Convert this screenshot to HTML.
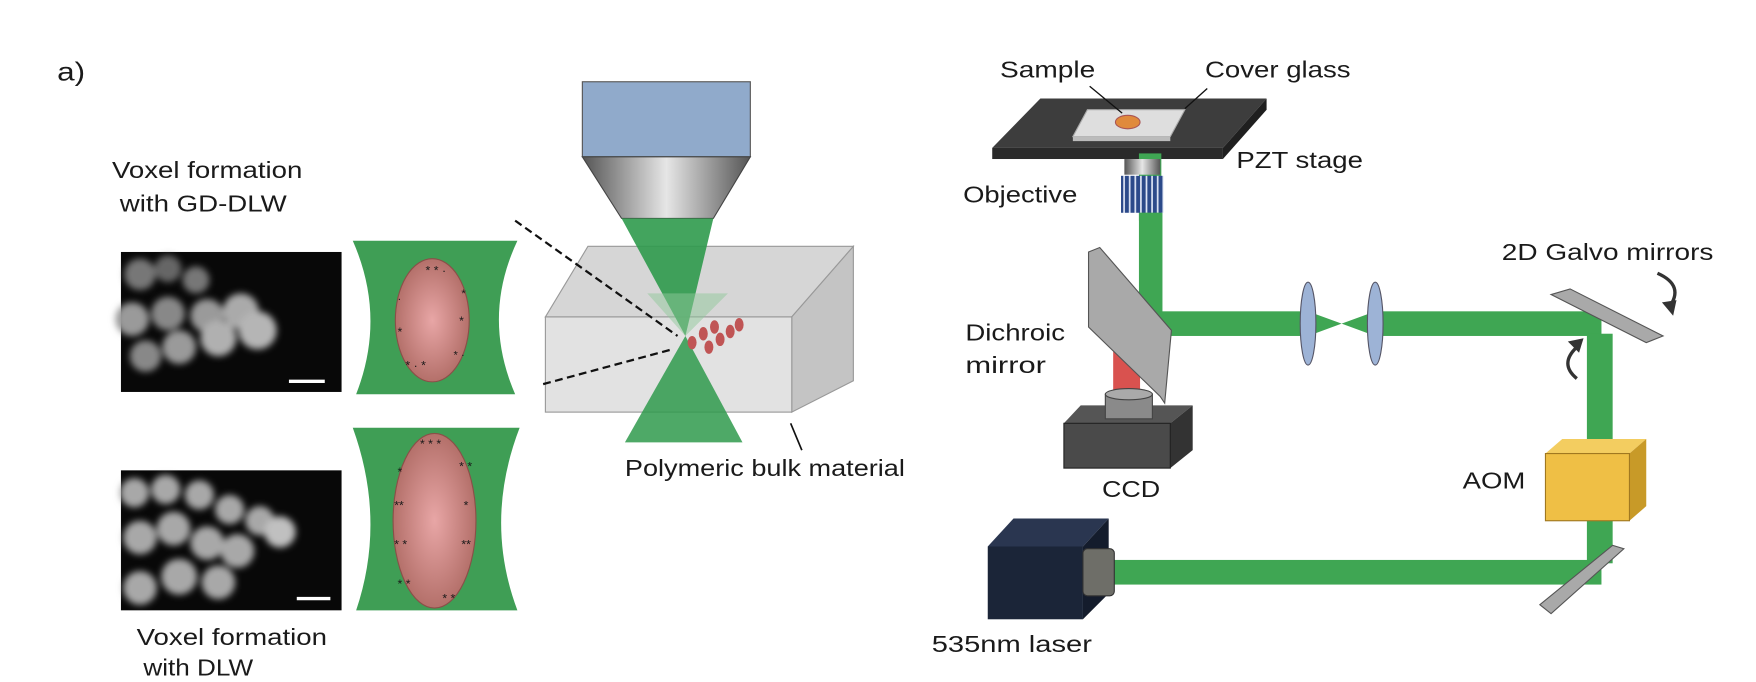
<!DOCTYPE html>
<html><head><meta charset="utf-8"><style>
html,body{margin:0;padding:0;background:#fff;}
svg{display:block;}
text{font-family:"Liberation Sans",Arial,sans-serif;fill:#1a1a1a;}
</style></head><body>
<svg width="1756" height="682" viewBox="0 0 1568 609" preserveAspectRatio="none" xmlns="http://www.w3.org/2000/svg">
<defs>
<filter id="bl" x="-20%" y="-20%" width="140%" height="140%"><feGaussianBlur stdDeviation="3"/></filter>
<radialGradient id="pink" cx="50%" cy="50%" r="50%"><stop offset="0" stop-color="#e8a6a6"/><stop offset="1" stop-color="#b4706a"/></radialGradient>
<linearGradient id="objg" x1="0" x2="1"><stop offset="0" stop-color="#555"/><stop offset="0.5" stop-color="#e6e6e6"/><stop offset="1" stop-color="#555"/></linearGradient>
<pattern id="stripe" width="5" height="10" patternUnits="userSpaceOnUse"><rect width="5" height="10" fill="#2c4a8a"/><rect x="3" width="1.5" height="10" fill="#dfe6f5"/></pattern>
</defs>

<text x="51" y="72" font-size="23" textLength="25" lengthAdjust="spacingAndGlyphs">a)</text>

<g>
<text x="100" y="159" font-size="21" textLength="170" lengthAdjust="spacingAndGlyphs">Voxel formation</text>
<text x="107" y="189" font-size="21" textLength="149" lengthAdjust="spacingAndGlyphs">with GD-DLW</text>
<rect x="108" y="225" width="197" height="125" fill="#080808"/>
<g filter="url(#bl)" fill="#9a9a9a">
<circle cx="125" cy="245" r="14" fill="#777"/><circle cx="150" cy="240" r="12" fill="#666"/><circle cx="175" cy="250" r="12" fill="#777"/>
<circle cx="118" cy="285" r="15"/><circle cx="150" cy="280" r="15" fill="#888"/><circle cx="185" cy="282" r="15"/><circle cx="215" cy="278" r="16" fill="#aaa"/>
<circle cx="130" cy="318" r="14" fill="#888"/><circle cx="160" cy="310" r="15"/><circle cx="195" cy="302" r="16" fill="#b0b0b0"/><circle cx="230" cy="295" r="17" fill="#b5b5b5"/>
</g>
<rect x="258" y="339" width="32" height="3" fill="#fff"/>
</g>

<g>
<rect x="108" y="420" width="197" height="125" fill="#080808"/>
<g filter="url(#bl)" fill="#a8a8a8">
<circle cx="120" cy="440" r="13"/><circle cx="148" cy="437" r="13"/><circle cx="178" cy="442" r="13"/><circle cx="205" cy="455" r="13"/><circle cx="232" cy="465" r="13"/>
<circle cx="125" cy="480" r="15"/><circle cx="155" cy="472" r="15"/><circle cx="185" cy="485" r="15"/><circle cx="212" cy="492" r="15"/><circle cx="250" cy="475" r="14" fill="#c0c0c0"/>
<circle cx="125" cy="525" r="15"/><circle cx="160" cy="515" r="16"/><circle cx="195" cy="520" r="15"/>
</g>
<rect x="265" y="533" width="30" height="3" fill="#fff"/>
<text x="122" y="576" font-size="21" textLength="170" lengthAdjust="spacingAndGlyphs">Voxel formation</text>
<text x="128" y="603" font-size="21" textLength="98" lengthAdjust="spacingAndGlyphs">with DLW</text>
</g>

<g>
<path d="M315 215 L462 215 Q430 283 460 352 L318 352 Q345 283 315 215Z" fill="#3f9e55"/>
<ellipse cx="386" cy="286" rx="33" ry="55" fill="url(#pink)" stroke="#8a4f48" stroke-width="1"/>
<text x="380" y="245" font-size="11">* * ·</text><text x="355" y="270" font-size="10">·</text><text x="355" y="300" font-size="11">*</text><text x="410" y="290" font-size="11">*</text><text x="412" y="265" font-size="10">*</text><text x="362" y="330" font-size="11">* · *</text><text x="405" y="320" font-size="10">* ·</text>
</g>
<g>
<path d="M315 382 L464 382 Q432 465 462 545 L318 545 Q345 465 315 382Z" fill="#3f9e55"/>
<ellipse cx="388" cy="465" rx="37" ry="78" fill="url(#pink)" stroke="#8a4f48" stroke-width="1"/>
<text x="375" y="400" font-size="11">* * *</text><text x="355" y="425" font-size="11">*</text><text x="352" y="455" font-size="11">**</text><text x="352" y="490" font-size="11">* *</text><text x="355" y="525" font-size="11">* *</text><text x="410" y="420" font-size="11">* *</text><text x="414" y="455" font-size="11">*</text><text x="412" y="490" font-size="11">**</text><text x="395" y="538" font-size="11">* *</text>
</g>

<g>
<rect x="520" y="73" width="150" height="67" fill="#90aacb" stroke="#555"/>
<path d="M520 140 L670 140 L637 195 L555 195Z" fill="url(#objg)" stroke="#444"/>
<polygon points="487,283 525,220 762,220 707,283" fill="#d6d6d6" stroke="#999"/>
<polygon points="707,283 762,220 762,340 707,368" fill="#c4c4c4" stroke="#999"/>
<rect x="487" y="283" width="220" height="85" fill="#e2e2e2" stroke="#999"/>
<polygon points="555,195 637,195 612,300" fill="#2f9a4c" opacity="0.9"/>
<polygon points="612,300 558,395 663,395" fill="#2f9a4c" opacity="0.85"/>
<polygon points="578,262 650,262 612,300" fill="#8fc79a" opacity="0.5"/>
<g fill="#c05555">
<ellipse cx="618" cy="306" rx="4" ry="6"/><ellipse cx="628" cy="298" rx="4" ry="6"/><ellipse cx="638" cy="292" rx="4" ry="6"/><ellipse cx="633" cy="310" rx="4" ry="6"/><ellipse cx="643" cy="303" rx="4" ry="6"/><ellipse cx="652" cy="296" rx="4" ry="6"/><ellipse cx="660" cy="290" rx="4" ry="6"/>
</g>
<line x1="460" y1="197" x2="605" y2="300" stroke="#111" stroke-width="2" stroke-dasharray="7,4"/>
<line x1="485" y1="343" x2="600" y2="312" stroke="#111" stroke-width="2" stroke-dasharray="7,4"/>
<line x1="706" y1="378" x2="716" y2="402" stroke="#111" stroke-width="1.5"/>
<text x="558" y="425" font-size="21" textLength="250" lengthAdjust="spacingAndGlyphs">Polymeric bulk material</text>
</g>

<g>
<text x="893" y="69" font-size="21" textLength="85" lengthAdjust="spacingAndGlyphs">Sample</text>
<text x="1076" y="69" font-size="21" textLength="130" lengthAdjust="spacingAndGlyphs">Cover glass</text>
<polygon points="929,88 1131,88 1092,132 886,132" fill="#3d3d3d"/>
<rect x="886" y="132" width="206" height="10" fill="#2a2a2a"/>
<polygon points="1092,132 1131,88 1131,98 1092,142" fill="#1f1f1f"/>
<polygon points="971,98 1058,98 1045,122 958,122" fill="#dedede" stroke="#aaa"/>
<polygon points="958,122 1045,122 1045,126 958,126" fill="#bbb"/>
<ellipse cx="1007" cy="109" rx="11" ry="6" fill="#e08a3c" stroke="#a55"/>
<line x1="973" y1="77" x2="1002" y2="101" stroke="#111" stroke-width="1.2"/>
<line x1="1078" y1="79" x2="1058" y2="97" stroke="#111" stroke-width="1.2"/>
<text x="1104" y="150" font-size="21" textLength="113" lengthAdjust="spacingAndGlyphs">PZT stage</text>
<text x="860" y="181" font-size="21" textLength="102" lengthAdjust="spacingAndGlyphs">Objective</text>
<rect x="1017" y="137" width="20" height="60" fill="#3fa653"/>
<rect x="1004" y="142" width="32" height="14" fill="url(#objg)"/>
<rect x="1001" y="157" width="38" height="33" fill="url(#stripe)"/>
<rect x="1017" y="190" width="21" height="110" fill="#3fa653"/>
<rect x="1020" y="278" width="410" height="22" fill="#3fa653"/>
<rect x="1175" y="270" width="46" height="38" fill="#fff"/>
<polygon points="1168,278 1198,289 1168,300" fill="#3fa653"/><polygon points="1228,278 1198,289 1228,300" fill="#3fa653"/>
<ellipse cx="1168" cy="289" rx="7" ry="37" fill="#9db3d6" stroke="#556"/>
<ellipse cx="1228" cy="289" rx="7" ry="37" fill="#9db3d6" stroke="#556"/>
<rect x="994" y="296" width="24" height="60" fill="#d9524f"/>
<polygon points="972,225 982,221 1046,295 1040,360 1036,354 972,292" fill="#a9a9a9" stroke="#555"/>
<text x="862" y="304" font-size="21" textLength="89" lengthAdjust="spacingAndGlyphs">Dichroic</text>
<text x="862" y="333" font-size="21" textLength="72" lengthAdjust="spacingAndGlyphs">mirror</text>
<polygon points="950,378 965,362 1065,362 1045,378" fill="#555"/>
<polygon points="1045,378 1065,362 1065,402 1045,418" fill="#333"/>
<rect x="950" y="378" width="95" height="40" fill="#4a4a4a" stroke="#222"/>
<rect x="987" y="352" width="42" height="22" fill="#8a8a8a" stroke="#444"/>
<ellipse cx="1008" cy="352" rx="21" ry="5" fill="#aaa" stroke="#444"/>
<text x="984" y="444" font-size="21" textLength="52" lengthAdjust="spacingAndGlyphs">CCD</text>
<text x="1341" y="232" font-size="21" textLength="189" lengthAdjust="spacingAndGlyphs">2D Galvo mirrors</text>
<rect x="1417" y="298" width="23" height="205" fill="#3fa653"/>
<polygon points="1385,263 1402,258 1485,300 1470,306" fill="#a9a9a9" stroke="#555"/>
<path d="M1480 244 Q1505 255 1490 275" fill="none" stroke="#333" stroke-width="3"/><polygon points="1484,270 1494,282 1497,268" fill="#333"/>
<path d="M1408 310 Q1392 325 1408 338" fill="none" stroke="#333" stroke-width="3"/><polygon points="1400,305 1414,302 1410,315" fill="#333"/>
<polygon points="1380,405 1395,392 1470,392 1455,405" fill="#f3cd60"/>
<polygon points="1455,405 1470,392 1470,452 1455,465" fill="#c89a28"/>
<rect x="1380" y="405" width="75" height="60" fill="#efbf45" stroke="#a07820"/>
<text x="1306" y="436" font-size="21" textLength="56" lengthAdjust="spacingAndGlyphs">AOM</text>
<rect x="985" y="500" width="445" height="22" fill="#3fa653"/>
<polygon points="1375,540 1440,487 1450,490 1385,548" fill="#a9a9a9" stroke="#555"/>
<polygon points="882,488 905,463 990,463 967,488" fill="#2a3650"/>
<polygon points="967,488 990,463 990,530 967,553" fill="#141c2c"/>
<rect x="882" y="488" width="85" height="65" fill="#1b2538"/>
<rect x="967" y="490" width="28" height="42" rx="4" fill="#6e6e68" stroke="#333"/>
<text x="832" y="582" font-size="21" textLength="143" lengthAdjust="spacingAndGlyphs">535nm laser</text>
</g>
</svg>
</body></html>
